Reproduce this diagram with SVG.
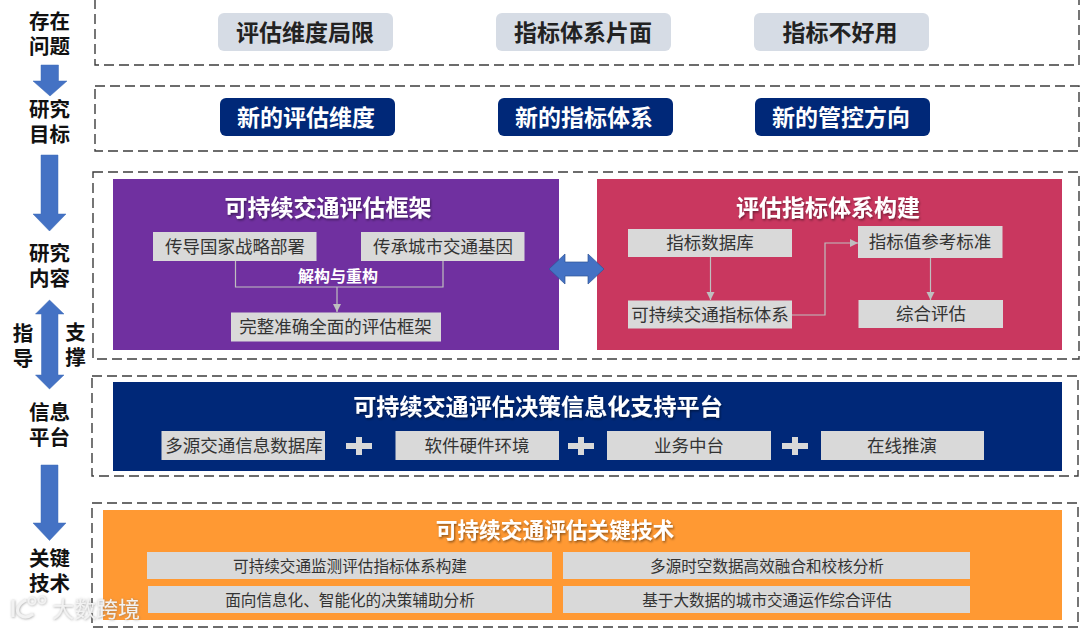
<svg xmlns="http://www.w3.org/2000/svg" width="1080" height="628" viewBox="0 0 1080 628">
<defs>
<filter id="sh" x="-5%" y="-20%" width="110%" height="150%"><feDropShadow dx="1" dy="1.5" stdDeviation="1" flood-color="#000" flood-opacity="0.45"/></filter>
<filter id="wm" x="-5%" y="-20%" width="110%" height="140%"><feDropShadow dx="0.5" dy="0.5" stdDeviation="0.8" flood-color="#777" flood-opacity="0.7"/></filter>
<marker id="ah" markerWidth="9" markerHeight="9" refX="8" refY="4" orient="auto" markerUnits="userSpaceOnUse"><path d="M0,0L8,4L0,8Z" fill="#bfbfbf"/></marker>
</defs>
<style>
text{font-family:"Noto Sans CJK SC","Noto Sans",sans-serif;text-anchor:middle}
.dash{fill:#fff;stroke:#3c3c3c;stroke-width:1.4;stroke-dasharray:10 5}
.side{font-size:20.5px;font-weight:700;fill:#111}
.pill{fill:#d6dce5}
.pillt{font-size:23px;font-weight:700;fill:#222}
.navy{fill:#002878}
.navyt{font-size:23px;font-weight:700;fill:#fff}
.title{font-size:23px;font-weight:700;fill:#fff;filter:url(#sh)}
.box{fill:#d9d9d9}
.bt{font-size:17.5px;fill:#333}
.bs{font-size:15.6px;fill:#333}
.conn{fill:none;stroke:#bfbfbf;stroke-width:1.2}
.arr{fill:#4472c4;stroke:#3f6cb8;stroke-width:.5}
</style>
<g id="frames">
<path class="dash" d="M95,-1V65H1079V-1"/>
<rect class="dash" x="95" y="86" width="984" height="65"/>
<rect class="dash" x="93" y="172" width="986" height="187"/>
<rect class="dash" x="92" y="376" width="986" height="100"/>
<rect class="dash" x="92" y="503" width="986" height="124"/>
</g>
<g id="side-labels">
<text class="side" x="49.500" y="28.500"><tspan x="49.500">存在</tspan><tspan x="49.500" dy="25">问题</tspan></text>
<text class="side" x="49.500" y="116.500"><tspan x="49.500">研究</tspan><tspan x="49.500" dy="25">目标</tspan></text>
<text class="side" x="49.500" y="261"><tspan x="49.500">研究</tspan><tspan x="49.500" dy="25">内容</tspan></text>
<text class="side" x="23" y="341"><tspan x="23">指</tspan><tspan x="23" dy="25">导</tspan></text>
<text class="side" x="75.500" y="340"><tspan x="75.500">支</tspan><tspan x="75.500" dy="25">撑</tspan></text>
<text class="side" x="49.500" y="420"><tspan x="49.500">信息</tspan><tspan x="49.500" dy="25">平台</tspan></text>
<text class="side" x="49.500" y="566"><tspan x="49.500">关键</tspan><tspan x="49.500" dy="25">技术</tspan></text>
</g>
<g id="side-arrows">
<path class="arr" d="M41,65H58.500V81H67L50,96L33,81H41Z"/>
<path class="arr" d="M41,155H58V214H66L49.500,231L33,214H41Z"/>
<path class="arr" d="M49.500,300L64,314H58V375H64L49.500,389L35.500,375H41.500V314H35.500Z"/>
<path class="arr" d="M41,465H58V523H66L49.500,540.500L33,523H41Z"/>
</g>
<g id="problems">
<g id="p1"><rect class="pill" x="218" y="13" width="175" height="38" rx="6"/><text class="pillt" x="305" y="41">评估维度局限</text></g>
<g id="p2"><rect class="pill" x="496" y="13" width="175" height="38" rx="6"/><text class="pillt" x="583" y="41">指标体系片面</text></g>
<g id="p3"><rect class="pill" x="754" y="13" width="175" height="38" rx="6"/><text class="pillt" x="840" y="41">指标不好用</text></g>
</g>
<g id="goals">
<g id="g1"><rect class="navy" x="220" y="98" width="175" height="38" rx="6"/><text class="navyt" x="306" y="126">新的评估维度</text></g>
<g id="g2"><rect class="navy" x="498" y="98" width="175" height="38" rx="6"/><text class="navyt" x="584" y="126">新的指标体系</text></g>
<g id="g3"><rect class="navy" x="755" y="98" width="175" height="38" rx="6"/><text class="navyt" x="841" y="126">新的管控方向</text></g>
</g>
<g id="framework">
<rect x="113" y="179" width="446" height="171" fill="#7030a0"/>
<text class="title" x="328" y="216">可持续交通评估框架</text>
<g id="f1"><rect class="box" x="153" y="232" width="163.500" height="29"/><text class="bt" x="235" y="252.500">传导国家战略部署</text></g>
<g id="f2"><rect class="box" x="361" y="232" width="163.500" height="29"/><text class="bt" x="443" y="252.500">传承城市交通基因</text></g>
<text x="338" y="282" font-size="16" font-weight="700" fill="#fff">解构与重构</text>
<g id="f3"><rect class="box" x="231" y="312.500" width="210" height="29"/><text class="bt" x="335.500" y="333">完整准确全面的评估框架</text></g>
</g>
<g id="indicator">
<rect x="597" y="179" width="465" height="171" fill="#c9375f"/>
<text class="title" x="828" y="216">评估指标体系构建</text>
<g id="i1"><rect class="box" x="628" y="229" width="164" height="28"/><text class="bt" x="710" y="249">指标数据库</text></g>
<g id="i2"><rect class="box" x="628" y="300.500" width="164" height="28"/><text class="bt" x="710" y="321">可持续交通指标体系</text></g>
<g id="i3"><rect class="box" x="858" y="226" width="144.500" height="32"/><text class="bt" x="930" y="248">指标值参考标准</text></g>
<g id="i4"><rect class="box" x="858.500" y="300" width="144.500" height="28"/><text class="bt" x="931" y="320">综合评估</text></g>
</g>
<g id="connectors">
<path class="conn" d="M235.500,261V287H443V261"/>
<path class="conn" d="M337,287V312" marker-end="url(#ah)"/>
<path class="conn" d="M710.500,257V300" marker-end="url(#ah)"/>
<path class="conn" d="M792,315H825V243H858" marker-end="url(#ah)"/>
<path class="conn" d="M930.500,258V300" marker-end="url(#ah)"/>
<path d="M549,269L565,254V262H588V254L604,269L588,284V276H565V284Z" fill="#4472c4" stroke="#2f5597" stroke-width=".7"/>
</g>
<g id="platform">
<rect x="113" y="382" width="949" height="89" fill="#002878"/>
<text class="title" x="538" y="415" style="font-size:23.100px">可持续交通评估决策信息化支持平台</text>
<g id="s1"><rect class="box" x="161.500" y="431" width="163.500" height="29"/><text class="bt" x="244" y="452">多源交通信息数据库</text></g>
<g id="s2"><rect class="box" x="395.500" y="431" width="163.500" height="29"/><text class="bt" x="477" y="452">软件硬件环境</text></g>
<g id="s3"><rect class="box" x="607" y="431" width="164" height="29"/><text class="bt" x="689" y="452">业务中台</text></g>
<g id="s4"><rect class="box" x="821" y="431" width="163" height="29"/><text class="bt" x="902" y="452">在线推演</text></g>
<g id="plus" fill="#d9d9d9"><path d="M346,443H356V437H362V443H372V449H362V455H356V449H346Z"/><path d="M568,443H578V437H584V443H594V449H584V455H578V449H568Z"/><path d="M782,443H792V437H798V443H808V449H798V455H792V449H782Z"/></g>
</g>
<g id="tech">
<rect x="103" y="510" width="959" height="110" fill="#ff9933"/>
<text class="title" x="555" y="538" style="font-size:21.700px">可持续交通评估关键技术</text>
<g id="t1"><rect class="box" x="147" y="552" width="405" height="27"/><text class="bs" x="350" y="571.500">可持续交通监测评估指标体系构建</text></g>
<g id="t2"><rect class="box" x="563" y="552" width="407" height="27"/><text class="bs" x="767" y="571.500">多源时空数据高效融合和校核分析</text></g>
<g id="t3"><rect class="box" x="148" y="586" width="404" height="27"/><text class="bs" x="350" y="605.500">面向信息化、智能化的决策辅助分析</text></g>
<g id="t4"><rect class="box" x="563" y="586" width="407" height="27"/><text class="bs" x="767" y="605.500">基于大数据的城市交通运作综合评估</text></g>
</g>
<g id="watermark" filter="url(#wm)">
<path d="M13,600V617M26,600C18,604 15,611 20,615C24,618 29,617 33,614" fill="none" stroke="#f2f2f2" stroke-width="3"/>
<circle cx="32" cy="601" r="3.500" fill="none" stroke="#f2f2f2" stroke-width="1.500"/><circle cx="42" cy="600" r="3.500" fill="none" stroke="#f2f2f2" stroke-width="1.500"/>
<text x="96" y="616.500" font-size="22" fill="#f2f2f2">大数跨境</text>
</g>
</svg>
